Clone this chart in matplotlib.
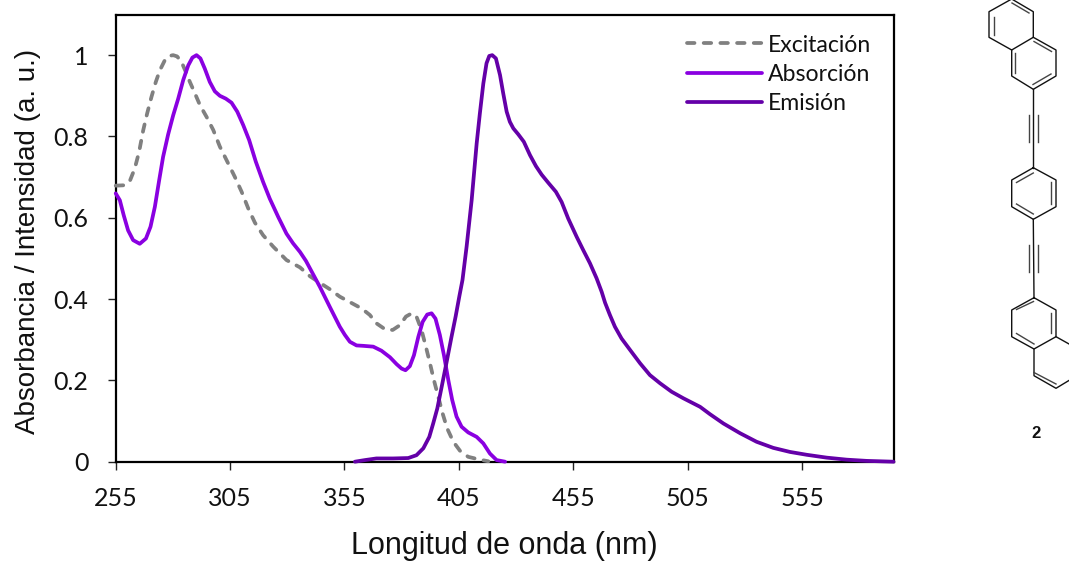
import matplotlib
matplotlib.use("Agg")
import matplotlib.pyplot as plt

W, H = 1069, 561

exc_nm = [255.1,259.1,261.3,263.4,265.3,267.1,268.8,270.7,272.6,274.4,276.6,278.4,280.2,281.9,283.8,285.7,287.5,289.7,291.9,294.8,297.7,300.6,303.5,307.1,310.1,313.0,315.9,319.5,323.9,329.7,335.6,340.0,344.3,348.7,353.0,358.9,362.5,366.1,369.1,372.7,376.1,379.3,381.9,384.4,386.5,388.7,390.6,392.4,394.1,396.0,397.9,399.9,402.6,405.5,409.1,413.5,417.9]
exc_val = [.679,.680,.691,.721,.762,.815,.856,.897,.934,.963,.988,.998,1.0,.997,.984,.959,.934,.906,.877,.848,.816,.775,.742,.701,.664,.623,.588,.557,.529,.496,.478,.456,.44,.424,.406,.388,.377,.361,.340,.326,.324,.336,.357,.365,.357,.324,.283,.242,.201,.160,.119,.082,.049,.027,.012,.006,.001]

abs_nm = [255.1,256.9,258.6,260.5,262.7,265.6,268.3,270.3,272.2,274.1,275.8,278.0,280.2,282.4,284.6,286.8,288.6,290.4,292.1,294.0,296.2,298.4,300.6,303.2,305.7,308.2,310.8,313.4,316.3,319.5,322.4,326.1,329.7,332.6,335.6,338.2,340.2,344.3,348.7,353.0,355.2,357.4,360.3,363.2,367.6,371.2,374.9,377.8,380.0,381.7,383.6,385.4,387.3,389.2,391.2,393.1,394.8,396.7,398.5,400.4,402.1,404.0,406.2,409.1,412.8,415.7,418.6,421.5,425.2]
abs_val = [.660,.643,.606,.569,.545,.536,.549,.578,.627,.693,.750,.805,.852,.893,.939,.975,.994,1.0,.992,.967,.934,.911,.90,.893,.883,.861,.828,.791,.738,.688,.647,.602,.561,.537,.516,.494,.473,.43,.38,.332,.312,.295,.286,.285,.283,.273,.257,.240,.229,.225,.235,.262,.307,.344,.362,.365,.352,.312,.262,.201,.152,.111,.086,.072,.061,.045,.020,.004,0]

emi_nm = [359.6,364.0,369.0,376.3,382.9,386.5,389.5,392.1,393.8,395.6,397.5,399.7,401.8,403.6,405.2,406.6,408.4,410.6,412.8,414.2,415.7,417.1,418.3,419.6,421.2,423.0,424.4,425.9,427.3,428.8,431.0,433.4,436.1,438.7,441.2,444.1,447.4,449.9,452.8,456.5,459.4,462.3,465.2,467.4,468.9,471.0,473.2,476.1,479.8,484.2,488.5,492.9,498.0,503.1,510.4,514.7,520.6,527.9,535.1,542.4,549.7,557.0,565.7,574.5,583.2,594.9]
emi_val = [0,.004,.008,.008,.009,.016,.033,.061,.094,.131,.184,.246,.307,.357,.406,.447,.529,.643,.783,.857,.930,.98,.998,1.0,.992,.951,.906,.861,.836,.820,.805,.787,.754,.727,.706,.686,.664,.639,.598,.553,.520,.488,.451,.418,.391,.361,.332,.303,.275,.242,.213,.193,.172,.156,.135,.117,.094,.070,.049,.034,.024,.017,.010,.005,.002,0]

x_ticks = [255,305,355,405,455,505,555]
y_ticks = [0,0.2,0.4,0.6,0.8,1]
y_tick_labels = ["0","0.2","0.4","0.6","0.8","1"]

fig = plt.figure(figsize=(W/100, H/100), dpi=100, facecolor="white")
ax = fig.add_axes([115.5/W, 1-461.7/H, (893.7-115.5)/W, (461.7-14.5)/H])
ax.set_xlim(255, 595)
ax.set_ylim(0, 1.1)

lw = 2.7
ax.plot(exc_nm, exc_val, color="#808080", lw=lw, ls=(0,(2,2.45)), dash_capstyle="round",
        dash_joinstyle="round", label="Excitación", zorder=3, clip_on=False)
ax.plot(abs_nm, abs_val, color="#8A00E1", lw=lw, solid_capstyle="round", solid_joinstyle="round",
        label="Absorción", zorder=3.1, clip_on=False)
ax.plot(emi_nm, emi_val, color="#6400A8", lw=lw, solid_capstyle="round", solid_joinstyle="round",
        label="Emisión", zorder=3.2, clip_on=False)

for s in ax.spines.values():
    s.set_linewidth(1.6)
    s.set_color("black")

ax.set_xticks(x_ticks)
ax.set_yticks(y_ticks, y_tick_labels)
ax.tick_params(axis="both", direction="out", length=6, width=1.0, color="#222222",
               labelcolor="#111111", labelsize=18)
ax.tick_params(axis="x", pad=12)
ax.tick_params(axis="y", pad=13.5)
for t in ax.get_xticklabels() + ax.get_yticklabels():
    t.set_fontfamily("Lato")

ax.set_xlabel("Longitud de onda (nm)", fontsize=22, family="Liberation Sans", color="#111111")
ax.xaxis.set_label_coords((504-115.5)/778.2, -(546-461.7)/447.2, transform=ax.transAxes)
ax.xaxis.label.set_verticalalignment("center")
ax.set_ylabel("Absorbancia / Intensidad (a. u.)", fontsize=20, family="Liberation Sans", color="#111111")
ax.yaxis.set_label_coords((28.5-115.5)/778.2, (461.7-241.5)/447.2, transform=ax.transAxes)
ax.yaxis.label.set_verticalalignment("center")

ax.legend(loc="upper left", bbox_to_anchor=((687-115.5)/778.2, (461.7-34.5)/447.2), frameon=False,
          borderpad=0, borderaxespad=0, handlelength=3.26, handletextpad=0.26, labelspacing=0.35,
          prop={"family": "Lato", "size": 16.6}, labelcolor="#111111")

# Molecule sketch, in pixel coordinates of the figure
mol = fig.add_axes([0, 0, 1, 1], facecolor="none")
mol.set_xlim(0, W)
mol.set_ylim(H, 0)
mol.axis("off")
bonds = [
    [(1011.7,-1),(1033.3,11.7),(1033.3,37.3),(1011.7,50),(989,37.3),(989,11.7),(1011.7,-1)],
    [(1033.3,37.3),(1056,50),(1056,76),(1033.3,89.3),(1011.7,76),(1011.7,50)],
    [(1033.3,89.3),(1033.3,167.7)],
    [(1033.3,167.7),(1056,180),(1056,206.7),(1033.3,219.3),(1011.7,206.7),(1011.7,180),(1033.3,167.7)],
    [(1033.3,219.3),(1034,297.7)],
    [(1034,297.7),(1056,310),(1056,336.7),(1034,349),(1011.7,336.7),(1011.7,310),(1034,297.7)],
    [(1056,336.7),(1078,349),(1078,375),(1056,388.3),(1034,375.7),(1034,349)],
]
inner = [
    [(993.5,16.5),(993.5,35)], [(1012,3),(1029,13)],
    [(1015,53),(1015,73)], [(1033,84.5),(1051,74)], [(1034,41.5),(1051.5,51.5)],
    [(1028.7,115),(1028.7,141.7)], [(1038.3,115),(1038.3,141.7)],
    [(1016.5,182.5),(1033.3,173)], [(1051,181.5),(1051,203.5)], [(1016.5,204),(1033.3,214)],
    [(1029,245),(1029,271.7)], [(1038.3,245),(1038.3,271.7)],
    [(1016.5,309.5),(1033.5,301.5)], [(1051,313),(1051,333)], [(1016.5,333.5),(1034,344)],
    [(1034,372.5),(1056,384)],
]
for seg in bonds:
    mol.plot(*zip(*seg), color="#111111", lw=1.0, solid_joinstyle="round", clip_on=True)
for seg in inner:
    mol.plot(*zip(*seg), color="#444444", lw=1.0, clip_on=True)
mol.text(1036, 433, "2", family="Liberation Sans", weight="bold", fontsize=12,
         ha="center", va="center", color="#111111")

fig.savefig("out.png", dpi=100)
